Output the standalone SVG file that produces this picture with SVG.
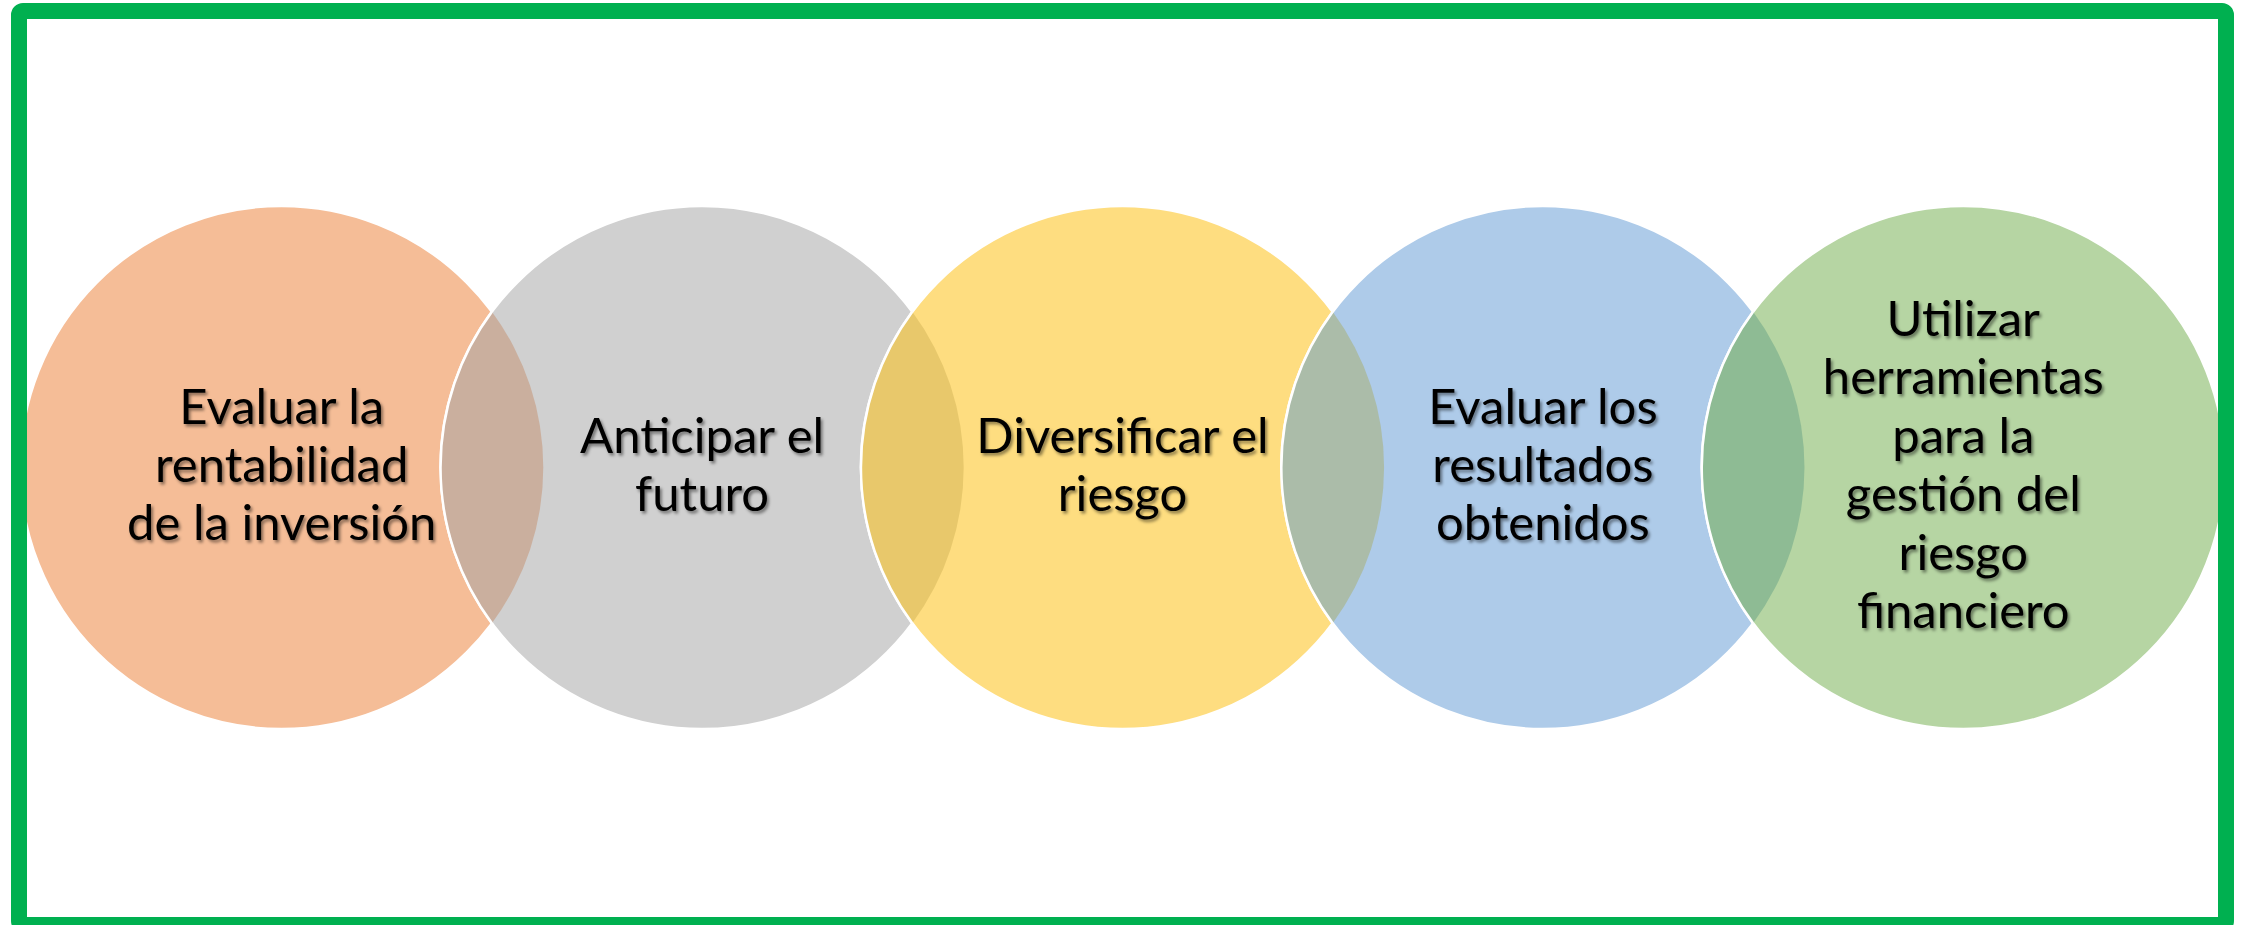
<svg xmlns="http://www.w3.org/2000/svg" width="2242" height="925" viewBox="0 0 2242 925">
<defs>
<style>
.c{stroke:#fff;stroke-width:2.5}
.lbl{font-family:Lato,"Liberation Sans",sans-serif;font-size:49px;fill:#000;text-anchor:middle;filter:url(#sh)}
.arc{fill:none;stroke:#fff;stroke-width:2.5}
</style>
<filter id="sh" x="-10%" y="-20%" width="120%" height="140%">
<feDropShadow dx="2" dy="2.5" stdDeviation="1.5" flood-color="#000" flood-opacity="0.45"/>
</filter>
</defs>
<rect width="2242" height="925" fill="#fff"/>
<g id="n1"><circle class="c" cx="281.7" cy="467.5" r="261.6" fill="#F5BD97"/></g>
<g id="n2"><circle class="c" cx="702.1" cy="467.5" r="261.6" fill="#D0D0D0"/></g>
<g id="n3"><circle class="c" cx="1122.5" cy="467.5" r="261.6" fill="#FEDD80"/></g>
<g id="n4"><circle class="c" cx="1542.9" cy="467.5" r="261.6" fill="#AECBE9"/></g>
<g id="n5"><circle class="c" cx="1963.3" cy="467.5" r="261.6" fill="#B6D5A3"/></g>
<g id="overlaps">
<path d="M491.9,311.8 A261.6,261.6 0 0 1 491.9,623.2 A261.6,261.6 0 0 1 491.9,311.8 Z" fill="#CAAF9E"/>
<path d="M912.3,311.8 A261.6,261.6 0 0 1 912.3,623.2 A261.6,261.6 0 0 1 912.3,311.8 Z" fill="#E8C86B"/>
<path d="M1332.7,311.8 A261.6,261.6 0 0 1 1332.7,623.2 A261.6,261.6 0 0 1 1332.7,311.8 Z" fill="#ABBCA9"/>
<path d="M1753.1,311.8 A261.6,261.6 0 0 1 1753.1,623.2 A261.6,261.6 0 0 1 1753.1,311.8 Z" fill="#8EBB94"/>
<path class="arc" d="M491.9,311.8 A261.6,261.6 0 0 0 491.9,623.2"/>
<path class="arc" d="M912.3,311.8 A261.6,261.6 0 0 0 912.3,623.2"/>
<path class="arc" d="M1332.7,311.8 A261.6,261.6 0 0 0 1332.7,623.2"/>
<path class="arc" d="M1753.1,311.8 A261.6,261.6 0 0 0 1753.1,623.2"/>
</g>
<g id="labels">
<text class="lbl"><tspan x="281.7" y="424">Evaluar la</tspan><tspan x="281.7" y="482">rentabilidad</tspan><tspan x="281.7" y="540">de la inversión</tspan></text>
<text class="lbl"><tspan x="702.1" y="453">Anticipar el</tspan><tspan x="702.1" y="511">futuro</tspan></text>
<text class="lbl"><tspan x="1122.5" y="453">Diversificar el</tspan><tspan x="1122.5" y="511">riesgo</tspan></text>
<text class="lbl"><tspan x="1542.9" y="424">Evaluar los</tspan><tspan x="1542.9" y="482">resultados</tspan><tspan x="1542.9" y="540">obtenidos</tspan></text>
<text class="lbl"><tspan x="1963.3" y="336">Utilizar</tspan><tspan x="1963.3" y="394">herramientas</tspan><tspan x="1963.3" y="453">para la</tspan><tspan x="1963.3" y="511">gestión del</tspan><tspan x="1963.3" y="570">riesgo</tspan><tspan x="1963.3" y="628">financiero</tspan></text>
</g>
<g id="frame"><rect x="19" y="11" width="2207" height="914" rx="4" fill="none" stroke="#00B050" stroke-width="16"/></g>
</svg>
